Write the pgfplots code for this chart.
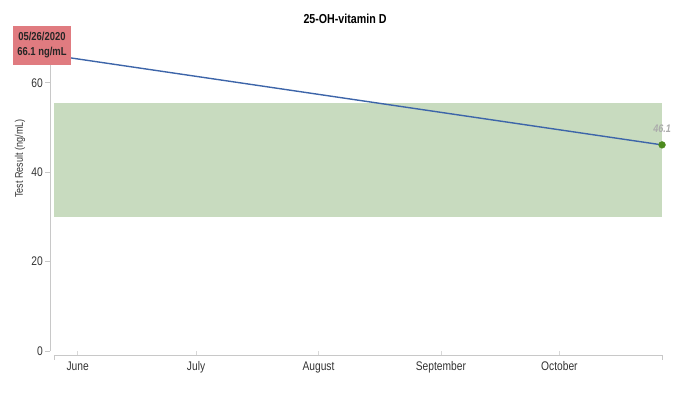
\documentclass[border=0pt]{standalone}
\usepackage{fontspec}
\setmainfont{Liberation Sans}[FakeStretch=0.82]
\usepackage{pgfplots}
\pgfplotsset{compat=1.18}
\definecolor{bandgreen}{HTML}{C8DBBF}
\definecolor{linecol}{HTML}{3D65A9}
\definecolor{dotgreen}{HTML}{4C8A1E}
\definecolor{boxred}{HTML}{E07B80}
\definecolor{axgray}{HTML}{C8C8C8}
\definecolor{txt}{HTML}{333333}
\begin{document}
\begin{tikzpicture}
\path (-50pt,-43.5pt) rectangle (640pt,355.5pt);
\begin{axis}[
  at={(0,0)}, anchor=south west,
  scale only axis, width=616pt, height=317.5pt,
  xmin=-1, xmax=155, ymin=-1, ymax=70,
  axis lines=none,
  clip=false,
  /pgf/number format/assume math mode=true,
]
% band
\addplot[fill=bandgreen, draw=none] coordinates {(0,30) (154,30) (154,55.5) (0,55.5)} -- cycle;
% axes
\draw[axgray, line width=0.9pt] (axis cs:-1,0) -- (axis cs:-1,70);
\draw[axgray, line width=0.9pt] (axis cs:0,-0.9) -- (axis cs:154,-0.9);
\pgfplotsinvokeforeach{0,20,40,60}{
  \draw[axgray, line width=0.7pt] (axis cs:-1,#1) -- ([xshift=-5pt]axis cs:-1,#1);
  \node[anchor=east, text=txt, font=\fontsize{12.5}{13}\selectfont, inner xsep=2pt] at ([xshift=-5pt]axis cs:-1,#1) {#1};
}
\pgfplotsinvokeforeach{6,36,67,98,128}{
  \draw[axgray!70, line width=0.5pt] (axis cs:#1,-0.9) -- ([yshift=4pt]axis cs:#1,-0.9);
}
\node[anchor=north, text=txt, font=\fontsize{12.5}{13}\selectfont] at ([yshift=-3pt]axis cs:6,-0.9) {June};
\node[anchor=north, text=txt, font=\fontsize{12.5}{13}\selectfont] at ([yshift=-3pt]axis cs:36,-0.9) {July};
\node[anchor=north, text=txt, font=\fontsize{12.5}{13}\selectfont] at ([yshift=-3pt]axis cs:67,-0.9) {August};
\node[anchor=north, text=txt, font=\fontsize{12.5}{13}\selectfont] at ([yshift=-3pt]axis cs:98,-0.9) {September};
\node[anchor=north, text=txt, font=\fontsize{12.5}{13}\selectfont] at ([yshift=-3pt]axis cs:128,-0.9) {October};
\draw[axgray, line width=0.7pt] (axis cs:0,-0.9) -- ([yshift=-5pt]axis cs:0,-0.9);
\draw[axgray, line width=0.7pt] (axis cs:154,-0.9) -- ([yshift=-5pt]axis cs:154,-0.9);
\node[rotate=90, text=txt, font=\fontsize{11}{12}\selectfont] at (-30pt,197pt) {Test Result (ng/mL)};
% line
\addplot[linecol, line width=1.4pt, mark=none] coordinates {(0,66.1) (154,46.1)};
\addplot[dotgreen, only marks, mark=*, mark size=3.4pt] coordinates {(154,46.1)};
\node[text=gray!65, font=\bfseries\itshape\fontsize{11}{12}\selectfont] at ([yshift=16pt]axis cs:154,46.1) {46.1};
% annotation box
\node[fill=boxred, text=black!85, font=\bfseries\fontsize{11.5}{15}\selectfont, align=center, minimum width=56pt, minimum height=39pt, inner xsep=4pt] at ([xshift=-12pt,yshift=10pt]axis cs:0,66.1) {05/26/2020\\66.1 ng/mL};
% title
\node[font=\bfseries\fontsize{13}{14}\selectfont] at (295pt,337pt) {25-OH-vitamin D};
\end{axis}
\end{tikzpicture}
\end{document}
